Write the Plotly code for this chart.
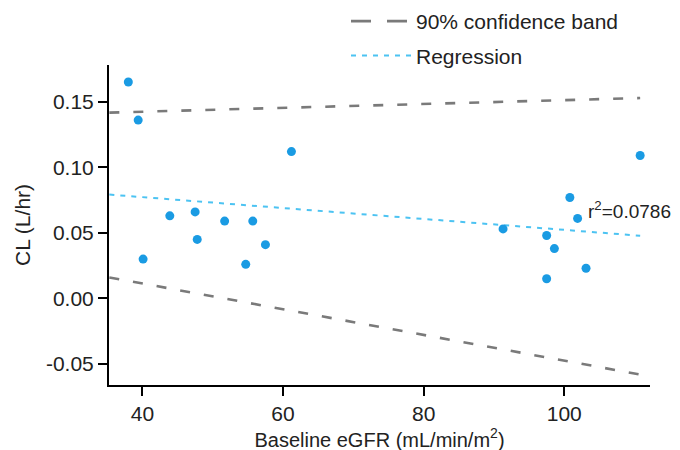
import plotly.graph_objects as go

# Data
egfr = [38.0, 39.4, 40.1, 43.9, 47.5, 47.8, 51.7, 55.7, 54.7, 57.5, 61.2,
        91.3, 97.5, 97.5, 98.6, 100.8, 101.9, 103.1, 110.8]
cl = [0.165, 0.136, 0.030, 0.063, 0.066, 0.045, 0.059, 0.059, 0.026, 0.041, 0.112,
      0.053, 0.048, 0.015, 0.038, 0.077, 0.061, 0.023, 0.109]

line_x = [35.3, 110.8]
reg_y = [0.0792, 0.0478]
upper_y = [0.1417, 0.1528]
lower_y = [0.0160, -0.0580]

x_ticks = [40, 60, 80, 100]
x_ticklabels = ["40", "60", "80", "100"]
y_ticks = [-0.05, 0.00, 0.05, 0.10, 0.15]
y_ticklabels = ["-0.05", "0.00", "0.05", "0.10", "0.15"]

r2_label = "r<sup>2</sup>=0.0786"

FONT = "Liberation Sans, Arial, sans-serif"
TXT = "#222222"
GREY = "#7a7a7a"
LIGHTBLUE = "#4cc3f2"
DOTBLUE = "#1a9be3"

fig = go.Figure()

# legend entry for the confidence band (longer dash pattern as in the reference legend)
fig.add_trace(go.Scatter(
    x=[None], y=[None], mode="lines", name="90% confidence band",
    line=dict(color=GREY, width=2.6, dash="20px,16px"),
    legendgroup="ci", hoverinfo="skip"))
fig.add_trace(go.Scatter(
    x=line_x, y=upper_y, mode="lines", name="90% confidence band",
    line=dict(color=GREY, width=2.6, dash="10px,14px"),
    legendgroup="ci", showlegend=False, hoverinfo="skip"))
fig.add_trace(go.Scatter(
    x=line_x, y=lower_y, mode="lines", name="90% confidence band",
    line=dict(color=GREY, width=2.6, dash="10px,14px"),
    legendgroup="ci", showlegend=False, hoverinfo="skip"))
fig.add_trace(go.Scatter(
    x=line_x, y=reg_y, mode="lines", name="Regression",
    line=dict(color=LIGHTBLUE, width=2, dash="5px,6px"),
    legendgroup="reg"))
fig.add_trace(go.Scatter(
    x=egfr, y=cl, mode="markers", name="Data",
    marker=dict(color=DOTBLUE, size=9), showlegend=False))

W, H = 680, 450
ml, mr, mt, mb = 101, 38, 57, 73
PW, PH = W - ml - mr, H - mt - mb

fig.add_annotation(
    x=(579 - ml) / PW, y=0.0673, xref="paper", yref="y", text=r2_label,
    showarrow=False, xanchor="left", yanchor="middle", borderpad=0,
    font=dict(family=FONT, size=19, color=TXT))

fig.update_layout(
    width=W, height=H,
    margin=dict(l=ml, r=mr, t=mt, b=mb, autoexpand=False),
    paper_bgcolor="white", plot_bgcolor="white",
    font=dict(family=FONT, size=20, color=TXT),
    showlegend=True,
    legend=dict(
        x=(338 - ml) / PW, y=1 + (mt + 7) / PH,
        xanchor="left", yanchor="top",
        bgcolor="rgba(0,0,0,0)", font=dict(size=21, family=FONT, color=TXT),
        itemwidth=60, tracegroupgap=4, traceorder="grouped"),
    xaxis=dict(
        range=[35.25, 112.2], tickvals=x_ticks, ticktext=x_ticklabels,
        showline=True, linecolor="black", linewidth=2,
        ticks="outside", ticklen=9, tickwidth=2, tickcolor="black",
        showgrid=False, zeroline=False,
        tickfont=dict(size=21, family=FONT, color=TXT),
        title=dict(text="Baseline eGFR (mL/min/m<sup>2</sup>)",
                   font=dict(size=20, family=FONT, color=TXT), standoff=2)),
    yaxis=dict(
        range=[-0.066, 0.178], tickvals=y_ticks, ticktext=y_ticklabels,
        showline=True, linecolor="black", linewidth=2,
        ticks="outside", ticklen=9, tickwidth=2, tickcolor="black",
        showgrid=False, zeroline=False,
        tickfont=dict(size=21, family=FONT, color=TXT),
        title=dict(text="CL (L/hr)",
                   font=dict(size=21, family=FONT, color=TXT), standoff=10)),
)

fig.write_html("out.html")
